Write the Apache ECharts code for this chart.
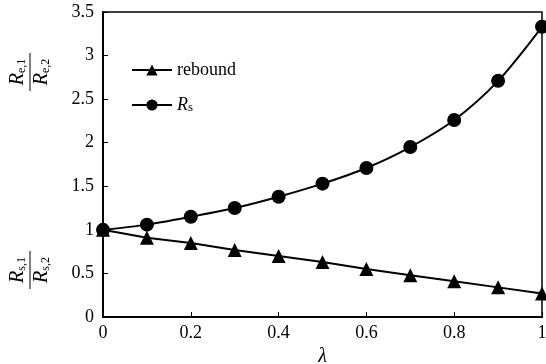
<!DOCTYPE html>
<html>
<head>
<meta charset="utf-8">
<script src="https://cdn.jsdelivr.net/npm/echarts@6/dist/echarts.min.js"></script>
<style>
html, body { margin: 0; padding: 0; background: #fff; }
#myChart { width: 546px; height: 364px; }
</style>
</head>
<body>
<div id="myChart"></div>
<script>
// lambda values
const lambdas = [0, 0.1, 0.2, 0.3, 0.4, 0.5, 0.6, 0.7, 0.8, 0.9, 1]
// Re,1 / Re,2 (rebound) and Rs,1 / Rs,2
const rebound = [1.0, 0.91, 0.85, 0.77, 0.70, 0.63, 0.55, 0.48, 0.41, 0.34, 0.27]
const rs = [1.0, 1.06, 1.15, 1.25, 1.38, 1.53, 1.71, 1.95, 2.26, 2.71, 3.33]

const serif = '"Liberation Serif", "DejaVu Serif", serif'

const myChart = echarts.init(document.getElementById('myChart'))

function pairs(ys) {
  return lambdas.map(function(x, i) { return [x, ys[i]] })
}

// rotated fraction label
function fraction(cx, cy, sub1, sub2) {
  const rich = {
    r: { fontFamily: serif, fontStyle: 'italic', fontSize: 20, fill: '#000' },
    s: { fontFamily: serif, fontSize: 12, fill: '#000', padding: [9, 0, 0, 0] }
  }
  return {
    type: 'group',
    x: cx,
    y: cy,
    rotation: Math.PI / 2,
    children: [
      {
        type: 'text',
        style: { text: '{r|R}{s|' + sub1 + '}', x: 0, y: -2, align: 'center', verticalAlign: 'bottom', rich: rich }
      },
      {
        type: 'line',
        shape: { x1: -19, y1: 0, x2: 19, y2: 0 },
        style: { stroke: '#000', lineWidth: 1 }
      },
      {
        type: 'text',
        style: { text: '{r|R}{s|' + sub2 + '}', x: 0, y: 1, align: 'center', verticalAlign: 'top', rich: rich }
      }
    ]
  }
}

myChart.setOption({
  animation: false,
  backgroundColor: '#fff',
  grid: {
    left: 103,
    right: 4,
    top: 12,
    bottom: 47,
    outerBoundsMode: 'none',
    containLabel: false,
    show: true,
    borderColor: '#000',
    borderWidth: 1.5
  },
  legend: {
    left: 126,
    top: 56,
    orient: 'vertical',
    itemWidth: 40,
    itemHeight: 14,
    itemGap: 17,
    data: ['rebound', 'Rs'],
    formatter: function(name) {
      return name === 'Rs' ? '{i|R}{s|s}' : name
    },
    textStyle: {
      fontFamily: serif, fontSize: 18, color: '#000',
      rich: {
        i: { fontFamily: serif, fontStyle: 'italic', fontSize: 18, color: '#000' },
        s: { fontFamily: serif, fontSize: 13, color: '#000', padding: [6, 0, 0, 0] }
      }
    }
  },
  xAxis: {
    type: 'value',
    min: 0,
    max: 1,
    interval: 0.2,
    name: 'λ',
    nameLocation: 'middle',
    nameGap: 25,
    nameTextStyle: { fontFamily: serif, fontStyle: 'italic', fontSize: 20, color: '#000' },
    axisLine: { lineStyle: { color: '#000', width: 2 } },
    axisTick: { inside: true, length: 5, lineStyle: { color: '#000' } },
    axisLabel: {
      margin: 7,
      fontFamily: serif, fontSize: 18, color: '#000',
      formatter: function(v) { return String(Math.round(v * 10) / 10) }
    },
    splitLine: { show: false }
  },
  yAxis: {
    type: 'value',
    min: 0,
    max: 3.5,
    interval: 0.5,
    axisLine: { lineStyle: { color: '#000', width: 2 } },
    axisTick: { inside: true, length: 5, lineStyle: { color: '#000' } },
    axisLabel: {
      margin: 9,
      fontFamily: serif, fontSize: 18, color: '#000'
    },
    splitLine: { show: false }
  },
  graphic: [
    fraction(30, 72, 'e,1', 'e,2'),
    fraction(30, 270, 's,1', 's,2')
  ],
  series: [
    {
      name: 'rebound',
      type: 'line',
      data: pairs(rebound),
      symbol: 'triangle',
      symbolSize: 14,
      itemStyle: { color: '#000' },
      lineStyle: { color: '#000', width: 2 }
    },
    {
      name: 'Rs',
      type: 'line',
      smooth: 0.3,
      data: pairs(rs),
      symbol: 'circle',
      symbolSize: 14,
      itemStyle: { color: '#000' },
      lineStyle: { color: '#000', width: 2 }
    }
  ]
})
</script>
</body>
</html>
